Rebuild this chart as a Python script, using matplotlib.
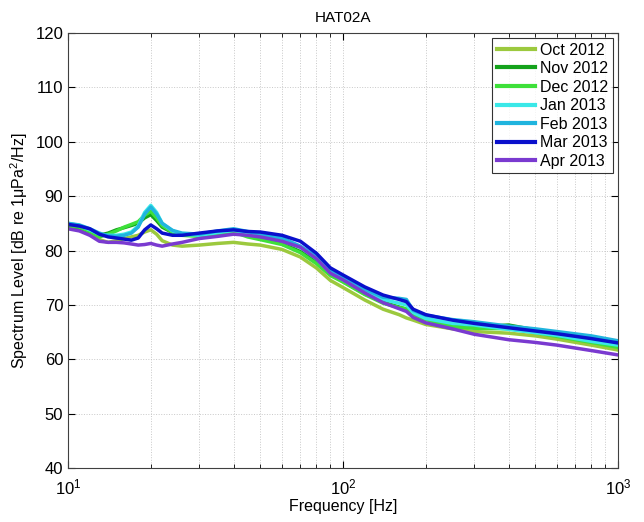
import matplotlib
matplotlib.use("Agg")
import matplotlib.pyplot as plt
from matplotlib.ticker import LogLocator, NullFormatter

plt.rcParams['font.family'] = ['Liberation Sans', 'DejaVu Sans']
plt.rcParams['mathtext.fontset'] = 'custom'
plt.rcParams['mathtext.rm'] = 'Liberation Sans'
plt.rcParams['mathtext.it'] = 'Liberation Sans:italic'

# frequency points (Hz)
freq = [10, 11, 12, 13, 14, 15, 16, 17, 18, 19, 20, 21, 22, 24, 26, 30, 35, 40, 45, 50,
        60, 70, 80, 90, 100, 120, 140, 160, 170, 180, 200, 250, 300, 400, 500, 600, 800, 1000]

oct_2012 = [84.2, 84.0, 83.3, 82.0, 81.5, 81.8, 82.2, 82.5, 82.8, 83.4, 83.8, 83.0, 81.8, 81.0, 80.8,
            81.0, 81.3, 81.5, 81.2, 81.0, 80.2, 78.8, 76.8, 74.5, 73.2, 70.9, 69.2, 68.2, 67.6, 67.2,
            66.4, 65.6, 65.1, 64.8, 64.3, 63.7, 62.6, 61.7]
nov_2012 = [84.5, 84.2, 83.5, 82.8, 83.2, 83.8, 84.2, 84.6, 85.0, 86.0, 86.6, 85.5, 84.3, 83.3, 82.8,
            82.8, 83.0, 83.4, 83.0, 82.6, 81.3, 79.8, 78.0, 75.6, 74.3, 72.0, 70.5, 69.6, 69.2, 68.4,
            67.4, 66.3, 65.9, 66.3, 65.4, 64.5, 63.4, 62.4]
dec_2012 = [84.5, 84.3, 83.5, 82.5, 83.0, 83.6, 84.3, 84.8, 85.3, 86.5, 87.2, 86.0, 84.6, 83.3, 82.8,
            82.6, 83.0, 83.4, 82.5, 82.0, 81.1, 79.6, 77.6, 75.4, 74.2, 71.9, 70.3, 69.5, 69.3, 68.3,
            67.3, 66.0, 65.7, 65.6, 64.9, 64.2, 63.1, 62.2]
jan_2013 = [85.0, 84.6, 83.8, 83.0, 82.8, 82.8, 83.0, 83.4, 84.5, 87.0, 88.3, 87.0, 85.0, 83.6, 83.0,
            82.8, 83.3, 83.7, 83.3, 82.8, 81.8, 80.6, 78.5, 75.9, 74.6, 72.6, 71.0, 70.3, 70.0, 68.6,
            67.5, 66.6, 66.3, 65.5, 64.9, 64.4, 63.3, 62.6]
feb_2013 = [85.0, 84.7, 84.0, 83.2, 82.7, 82.6, 82.8, 83.2, 84.3, 86.7, 88.0, 86.7, 85.0, 83.7, 83.2,
            83.0, 83.6, 84.0, 83.5, 83.0, 82.3, 80.8, 78.9, 76.2, 75.0, 72.9, 71.4, 71.2, 71.0, 69.0,
            68.1, 67.3, 66.9, 66.1, 65.6, 65.1, 64.3, 63.4]
mar_2013 = [84.8, 84.5, 84.0, 83.0, 82.5, 82.3, 82.1, 81.9, 82.3, 83.8, 84.7, 84.0, 83.2, 82.8, 82.8,
            83.2, 83.6, 83.8, 83.5, 83.4, 82.8, 81.7, 79.5, 76.8, 75.5, 73.3, 71.8, 71.0, 70.6, 69.2,
            68.2, 67.2, 66.6, 65.8, 65.2, 64.7, 63.8, 63.0]
apr_2013 = [84.0, 83.6, 82.8, 81.7, 81.5, 81.5, 81.4, 81.2, 81.0, 81.1, 81.3, 81.0, 80.8, 81.2, 81.5,
            82.2, 82.6, 83.0, 82.8, 82.5, 81.7, 80.6, 78.5, 75.8, 74.6, 72.2, 70.4, 69.3, 68.8, 67.7,
            66.7, 65.6, 64.6, 63.6, 63.1, 62.6, 61.6, 60.8]

labels = ['Oct 2012', 'Nov 2012', 'Dec 2012', 'Jan 2013', 'Feb 2013', 'Mar 2013', 'Apr 2013']
series = [oct_2012, nov_2012, dec_2012, jan_2013, feb_2013, mar_2013, apr_2013]
colors = ['#9cc93e', '#14a21c', '#3ee03a', '#3ae8e8', '#20b4de', '#0a10cc', '#7a3ad0']

fig = plt.figure(figsize=(6.44, 5.22), dpi=100)
ax = fig.add_axes([0.1056, 0.1034, 0.854, 0.8334])

for vals, lab, col in zip(series, labels, colors):
    ax.semilogx(freq, vals, color=col, lw=2.5, label=lab)

ax.set_xlim(10, 1000)
ax.set_ylim(40, 120)
ax.set_yticks(range(40, 121, 10))
ax.xaxis.set_major_locator(LogLocator(base=10))
ax.xaxis.set_minor_locator(LogLocator(base=10, subs=range(2, 10)))
ax.xaxis.set_minor_formatter(NullFormatter())

ax.grid(True, which='major', ls=':', color='#c8c8c8', lw=0.7)
ax.grid(True, which='minor', axis='x', ls=':', color='#c8c8c8', lw=0.7)
ax.tick_params(which='both', direction='in', top=True, right=True, labelsize=12)
ax.tick_params(axis='x', which='major', pad=7)
ax.tick_params(which='major', length=5)
ax.tick_params(which='minor', length=3)
for s in ax.spines.values():
    s.set_linewidth(0.8)
    s.set_color('#404040')

ax.set_title('HAT02A', fontsize=11, pad=8)
ax.set_xlabel('Frequency [Hz]', fontsize=11.5, labelpad=1)
ax.set_ylabel('Spectrum Level [dB re 1μPa$^2$/Hz]', fontsize=11.5, labelpad=4)

leg = ax.legend(loc='upper right', fontsize=11.5, frameon=True, fancybox=False,
                handlelength=2.4, handletextpad=0.3, labelspacing=0.22,
                borderaxespad=0.3, borderpad=0.3)
leg.get_frame().set_edgecolor('black')
leg.get_frame().set_linewidth(0.8)
for line in leg.get_lines():
    line.set_linewidth(3)

fig.savefig('out.png', dpi=100)
